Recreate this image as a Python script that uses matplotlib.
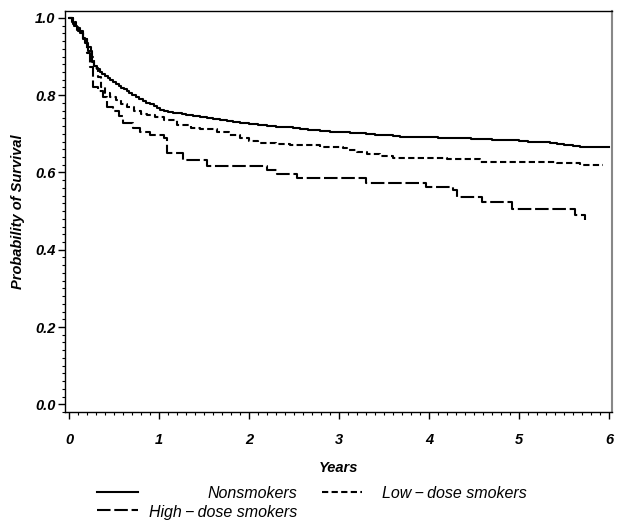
import matplotlib
matplotlib.use("Agg")
import matplotlib.pyplot as plt
from matplotlib.lines import Line2D
from matplotlib.ticker import MultipleLocator

plt.rcParams['font.family'] = ['Liberation Sans', 'DejaVu Sans']

# data (Kaplan-Meier style step curves)
non_t = [0, 0.03, 0.06, 0.09, 0.12, 0.15, 0.18, 0.21, 0.25, 0.28, 0.31, 0.34,
         0.37, 0.40, 0.43, 0.46, 0.49, 0.52, 0.55, 0.58, 0.61, 0.64, 0.67,
         0.70, 0.74, 0.78, 0.82, 0.86, 0.90, 0.94, 0.98, 1.01, 1.06, 1.1, 1.15,
         1.2, 1.25, 1.3, 1.38, 1.46, 1.53, 1.6, 1.68, 1.75, 1.82, 1.9, 2.0,
         2.1, 2.2, 2.3, 2.4, 2.49, 2.57, 2.65, 2.72, 2.79, 2.9, 3.0, 3.12, 3.2,
         3.3, 3.4, 3.5, 3.6, 3.68, 3.8, 3.9, 4.0, 4.1, 4.22, 4.34, 4.47, 4.6,
         4.7, 4.8, 4.9, 5.0, 5.1, 5.2, 5.27, 5.34, 5.42, 5.5, 5.6, 5.68, 6.0]
non_s = [1.0, 0.99, 0.98, 0.97, 0.96, 0.948, 0.935, 0.915, 0.885, 0.876, 0.868,
         0.861, 0.855, 0.850, 0.845, 0.839, 0.834, 0.829, 0.824, 0.819, 0.815,
         0.810, 0.806, 0.801, 0.796, 0.791, 0.786, 0.781, 0.776, 0.772, 0.767,
         0.763, 0.760, 0.757, 0.755, 0.753, 0.751, 0.749, 0.746, 0.743, 0.741,
         0.738, 0.736, 0.734, 0.731, 0.729, 0.726, 0.724, 0.721, 0.719, 0.717,
         0.715, 0.713, 0.711, 0.709, 0.707, 0.705, 0.704, 0.702, 0.701, 0.699,
         0.698, 0.696, 0.694, 0.692, 0.692, 0.691, 0.691, 0.690, 0.689, 0.689,
         0.687, 0.686, 0.685, 0.684, 0.683, 0.682, 0.680, 0.679, 0.678, 0.676,
         0.674, 0.671, 0.668, 0.666, 0.666]

low_t = [0, 0.04, 0.08, 0.12, 0.16, 0.20, 0.24, 0.28, 0.32, 0.36, 0.40, 0.46,
         0.52, 0.58, 0.64, 0.72, 0.80, 0.87, 0.95, 1.05, 1.2, 1.35, 1.46, 1.64,
         1.78, 1.9, 2.0, 2.1, 2.3, 2.46, 2.6, 2.79, 3.04, 3.09, 3.2, 3.31, 3.45,
         3.6, 3.9, 4.2, 4.4, 4.57, 5.0, 5.42, 5.68, 5.93]
low_s = [1.0, 0.99, 0.975, 0.96, 0.945, 0.925, 0.9, 0.87, 0.847, 0.82, 0.806,
         0.795, 0.788, 0.778, 0.77, 0.76, 0.752, 0.749, 0.743, 0.737, 0.723,
         0.716, 0.712, 0.705, 0.697, 0.689, 0.681, 0.677, 0.675, 0.672, 0.67,
         0.667, 0.664, 0.658, 0.653, 0.648, 0.643, 0.638, 0.637, 0.636, 0.635,
         0.628, 0.626, 0.624, 0.619, 0.619]

high_t = [0, 0.04, 0.1, 0.15, 0.2, 0.23, 0.27, 0.32, 0.38, 0.42, 0.49, 0.55,
          0.6, 0.71, 0.79, 0.9, 1.05, 1.09, 1.27, 1.53, 2.2, 2.31, 2.53, 3.3,
          3.97, 4.27, 4.31, 4.59, 4.92, 5.62, 5.73]
high_s = [1.0, 0.985, 0.965, 0.945, 0.91, 0.873, 0.821, 0.81, 0.795, 0.77,
          0.76, 0.745, 0.728, 0.715, 0.705, 0.697, 0.69, 0.650, 0.632, 0.617,
          0.606, 0.596, 0.585, 0.573, 0.563, 0.555, 0.537, 0.524, 0.506, 0.49,
          0.477]

labels = ["Nonsmokers", "Low\u2009\u2212\u2009dose smokers",
          "High\u2009\u2212\u2009dose smokers"]

solid = '-'
short = (0, (3.0, 1.6))
long_ = (0, (6.5, 1.8))

fig = plt.figure(figsize=(6.24, 5.28), dpi=100)
ax = fig.add_axes([65/624, 1 - 412/528, (612-65)/624, (412-11)/528])

lw = 1.5
ax.plot(non_t, non_s, drawstyle='steps-post', color='black', lw=lw, ls=solid)
ax.plot(low_t, low_s, drawstyle='steps-post', color='black', lw=lw, ls=short)
ax.plot(high_t, high_s, drawstyle='steps-post', color='black', lw=lw, ls=long_)

ax.set_xlim(-0.045, 6.033)
ax.set_ylim(-0.02, 1.018)

ax.xaxis.set_major_locator(MultipleLocator(1))
ax.xaxis.set_minor_locator(MultipleLocator(0.1))
ax.yaxis.set_major_locator(MultipleLocator(0.2))
ax.yaxis.set_minor_locator(MultipleLocator(0.02))
ax.set_xticks(range(0, 7))
ax.set_yticks([0.0, 0.2, 0.4, 0.6, 0.8, 1.0])
ax.set_yticklabels(["0.0", "0.2", "0.4", "0.6", "0.8", "1.0"])

ax.tick_params(which='major', direction='out', length=5, width=1, pad=2)
ax.tick_params(which='minor', direction='out', length=2.5, width=0.8)
ax.tick_params(axis='x', which='major', pad=10)
for lab in ax.get_xticklabels() + ax.get_yticklabels():
    lab.set_fontsize(10.5)
    lab.set_fontweight('bold')
    lab.set_fontstyle('italic')

ax.spines['right'].set_color('#888888')
ax.spines['right'].set_linewidth(1.5)
for s in ['left', 'top', 'bottom']:
    ax.spines[s].set_linewidth(1.0)

ax.set_xlabel("Years", fontsize=10.5, fontweight='bold', fontstyle='italic', labelpad=10)
ax.set_ylabel("Probability of Survival", fontsize=10.5, fontweight='bold',
              fontstyle='italic', labelpad=7)

# legend below the plot, SAS style
def fx(px):
    return px / 624

def fy(py):
    return 1 - py / 528

styles = [solid, short, long_]
samples = [(97, 138, 492), (322, 362, 492), (97, 138, 510)]
for (x0, x1, y), st in zip(samples, styles):
    fig.add_artist(Line2D([fx(x0), fx(x1)], [fy(y), fy(y)], color='black',
                          lw=lw, ls=st))

fig.text(fx(297), fy(493), labels[0], ha='right', va='center', fontsize=11.5,
         fontstyle='italic')
fig.text(fx(382), fy(493), labels[1], ha='left', va='center', fontsize=11.5,
         fontstyle='italic')
fig.text(fx(297), fy(512), labels[2], ha='right', va='center', fontsize=11.5,
         fontstyle='italic')

fig.savefig("out.png", dpi=100)
